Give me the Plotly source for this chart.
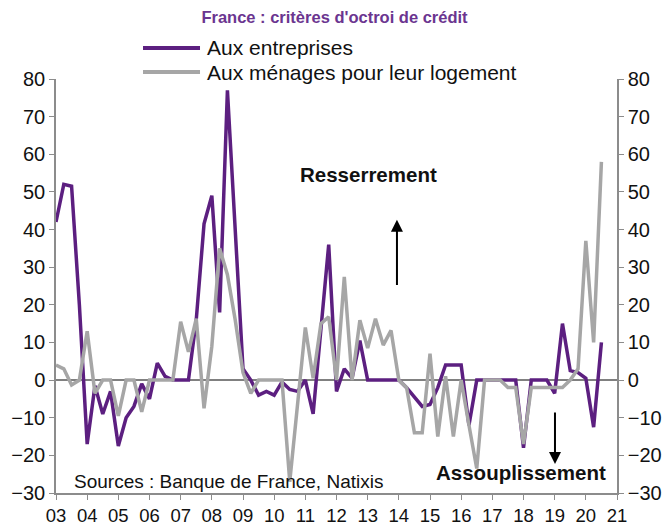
import plotly.graph_objects as go

# Quarterly observations, 2003Q1 .. 2020Q3
start_year = 2003
entreprises = [42, 52, 51.5, 20, -17, -1.5, -9, -3, -17.5, -10, -7, -1, -5, 4.5, 1,
               0, 0, 0, 16, 41.5, 49, 18, 77, 40, 3, 0, -4, -3, -4, -0.5,
               -2.5, -3, 0, -9, 13, 36, -3, 3, 0.5, 10.5, 0, 0, 0, 0, 0,
               -2, -4.5, -7, -6.5, -2, 4, 4, 4, -12, 0, 0, 0, 0, 0, 0,
               -18, 0, 0, 0, -3.5, 15, 2.5, 2, 0.5, -12.5, 10]
menages = [4, 3, -1.3, 0, 13, -3.5, 0, 0, -9.5, 0, 0, -8.4, 0, 0, 0,
           0, 15.5, 7.5, 16.3, -7.5, 9, 35, 28, 16, 2, -3.5, 0, 0, 0, 0,
           -27, -6, 14, 0.5, 15, 16.8, 0, 27.4, 0, 15.9, 8.5, 16.3, 9.3, 13.2, 0,
           -2, -14, -14, 7, -15, 1, -15, 0, -12, -23.5, 0, 0, 0, -2, -2,
           -17, -2, -2, -2, -2, -2, 0, 3, 37, 10, 58]
series_names = ["Aux entreprises", "Aux ménages pour leur logement"]
year_ticks = list(range(2003, 2022))
year_labels = [f"{y % 100:02d}" for y in year_ticks]
y_ticks = [-30, -20, -10, 0, 10, 20, 30, 40, 50, 60, 70, 80]

x = [start_year + i * 0.25 for i in range(len(entreprises))]

PURPLE = "#5c1f80"
GRAY = "#a6a6a6"
FONT = "Liberation Sans, Arial, sans-serif"

fig = go.Figure()
fig.add_trace(go.Scatter(x=x, y=entreprises, mode="lines", name=series_names[0],
                         line=dict(color=PURPLE, width=3.5), showlegend=False))
fig.add_trace(go.Scatter(x=x, y=menages, mode="lines", name=series_names[1],
                         line=dict(color=GRAY, width=3.5), yaxis="y2", showlegend=False))

yrange = [-30, 80]
axis_common = dict(range=yrange, tickvals=y_ticks, ticks="outside", ticklen=5,
                   tickcolor="#8c8c8c", showline=True, linecolor="#8c8c8c", linewidth=1.5,
                   showgrid=False, tickfont=dict(size=20, color="#111111", family=FONT))

fig.update_layout(
    width=669, height=527,
    margin=dict(l=56, r=52, t=79, b=34, autoexpand=False),
    paper_bgcolor="white", plot_bgcolor="white",
    title=dict(text="<b>France : critères d'octroi de crédit</b>", x=0.5, xanchor="center",
               y=0.967, yanchor="middle",
               font=dict(size=16.5, color="#6b3590", family=FONT)),
    xaxis=dict(range=[2003, 2021], tickvals=year_ticks, ticktext=year_labels,
               ticks="outside", ticklen=5, tickcolor="#8c8c8c", showline=True,
               linecolor="#8c8c8c", linewidth=1.5, showgrid=False, zeroline=False,
               tickfont=dict(size=18.5, color="#111111", family=FONT)),
    yaxis=dict(**axis_common, side="left", zeroline=True, zerolinecolor="#808080",
               zerolinewidth=1.5),
    yaxis2=dict(**axis_common, side="right", overlaying="y", zeroline=False),
    showlegend=False,
)

# Legend drawn as line samples + labels above the plot area
legend_rows = [(series_names[0], PURPLE, 1.0749), (series_names[1], GRAY, 1.0169)]
for name, color, ly in legend_rows:
    fig.add_shape(type="line", xref="paper", yref="paper", x0=0.1551, x1=0.2567,
                  y0=ly, y1=ly, line=dict(color=color, width=4))
    fig.add_annotation(xref="paper", yref="paper", x=0.2656, y=ly, text=name,
                       showarrow=False, xanchor="left", yanchor="middle",
                       font=dict(size=21, color="#111111", family=FONT))

ann_font = dict(size=20.5, color="#111111", family=FONT)
fig.add_annotation(x=2013.04, y=54.6, text="<b>Resserrement</b>", showarrow=False,
                   font=ann_font, xref="x", yref="y")
fig.add_annotation(x=2017.92, y=-24.6, text="<b>Assouplissement</b>", showarrow=False,
                   font=ann_font, xref="x", yref="y")
fig.add_annotation(x=2003.51, y=-27, text="Sources : Banque de France, Natixis",
                   showarrow=False, xanchor="left", font=dict(size=19, color="#111111", family=FONT),
                   xref="x", yref="y")
fig.add_annotation(x=2013.94, y=42.6, ax=2013.94, ay=24.9, axref="x", ayref="y",
                   xref="x", yref="y", text="", showarrow=True, arrowhead=2,
                   arrowsize=1.2, arrowwidth=2, arrowcolor="#000000")
fig.add_annotation(x=2019.01, y=-22.3, ax=2019.01, ay=-8.2, axref="x", ayref="y",
                   xref="x", yref="y", text="", showarrow=True, arrowhead=2,
                   arrowsize=1.2, arrowwidth=2, arrowcolor="#000000")

fig.write_html("out.html", config={"displayModeBar": False},
               post_script="document.body.style.margin='0';")
